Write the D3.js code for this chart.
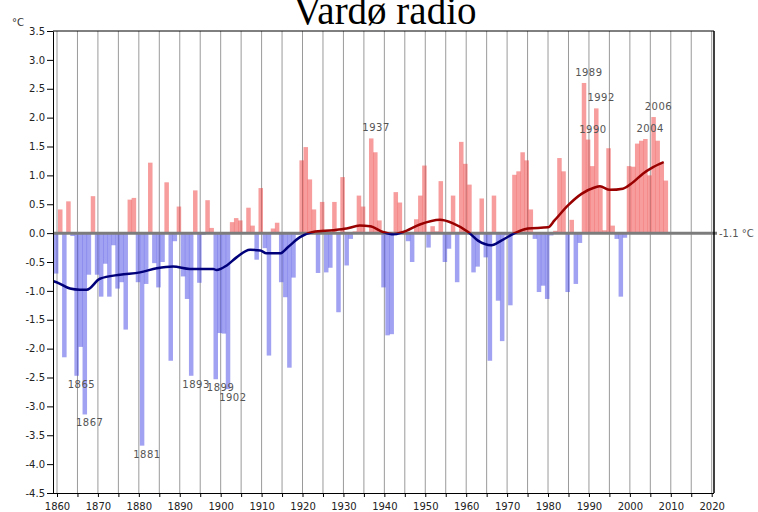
<!DOCTYPE html>
<html>
<head>
<meta charset="utf-8">
<script src="https://cdn.jsdelivr.net/npm/d3@7/dist/d3.min.js"></script>
<style>
  body { margin: 0; background: #fff; }
  svg { display: block; font-family: "DejaVu Sans", sans-serif; }
</style>
</head>
<body>
<svg width="758" height="512"></svg>
<script>
const WIDTH = 758;
const HEIGHT = 512;
const LEFT = 53, RIGHT = 714, TOP = 31, BOTTOM = 493;

const firstYear = 1860;
// yearly anomalies (°C), one row per decade
const anomalies = [
  -0.70, 0.41, -2.15, 0.55, -0.05, -2.47, -1.97, -3.14, -0.72, 0.64,   // 1860
  -0.72, -1.10, -0.53, -1.10, -0.21, -0.96, -0.85, -1.67, 0.58, 0.61,  // 1870
  -0.85, -3.68, -0.88, 1.22, -0.52, -0.94, -0.50, 0.88, -2.21, -0.14,  // 1880
  0.46, -0.75, -1.14, -2.47, 0.74, -0.86, -0.03, 0.57, 0.09, -2.53,    // 1890
  -1.73, -1.74, -2.70, 0.19, 0.26, 0.22, 0.02, 0.44, 0.13, -0.46,      // 1900
  0.78, -0.26, -2.12, 0.08, 0.18, -0.85, -1.11, -2.33, -0.77, -0.03,   // 1910
  1.26, 1.49, 0.93, 0.41, -0.69, 0.54, -0.68, -0.60, 0.54, -1.37,      // 1920
  0.97, -0.56, -0.10, 0.03, 0.65, 0.46, 0.02, 1.64, 1.40, 0.22,        // 1930
  -0.94, -1.77, -1.75, 0.71, 0.53, 0.02, -0.14, -0.50, 0.24, 0.65,     // 1940
  1.17, -0.25, 0.12, 0.03, 0.90, -0.50, -0.27, 0.65, -0.85, 1.58,      // 1950
  1.20, 0.84, -0.68, -0.58, 0.60, -0.42, -2.21, 0.65, -1.17, -1.87,    // 1960
  -0.04, -1.25, 1.01, 1.07, 1.40, 1.26, 0.41, -0.10, -1.02, -0.91,     // 1970
  -1.14, -0.04, 0.04, 1.30, 1.07, -1.02, 0.23, -0.88, -0.17, 2.60,     // 1980
  1.62, 1.16, 2.16, 0.80, 0.05, 1.47, 0.13, -0.10, -1.10, -0.08,       // 1990
  1.16, 1.15, 1.55, 1.60, 1.63, 1.00, 2.01, 1.60, 1.20, 0.91           // 2000
];

// smoothed curve
const smoothYears = [1859.2, 1860.1, 1863.4, 1865.8, 1867.5, 1870.7, 1875.6, 1880.5,
  1884.6, 1888.6, 1892.7, 1898.4, 1899.2, 1901.7, 1904.1, 1907.4, 1909.9, 1911.4,
  1914.7, 1916.7, 1919.6, 1922.8, 1927.7, 1931, 1934.2, 1936.7, 1939.9, 1942.4,
  1944.8, 1948.9, 1953.8, 1957, 1960.7, 1963.1, 1966.4, 1968.8, 1972.1, 1975.3,
  1980.2, 1981.8, 1985.1, 1988.4, 1991.6, 1992.9, 1995.3, 1998.5, 2001, 2003.4,
  2005.8, 2008.5];
const smoothValues = [-0.83, -0.85, -0.96, -0.98, -0.98, -0.79, -0.72, -0.68,
  -0.61, -0.58, -0.62, -0.62, -0.64, -0.56, -0.42, -0.29, -0.30, -0.35,
  -0.35, -0.24, -0.07, 0.02, 0.05, 0.08, 0.13, 0.12, 0.02, -0.02,
  0.02, 0.15, 0.23, 0.17, 0.02, -0.13, -0.21, -0.13, 0.00, 0.08,
  0.10, 0.22, 0.48, 0.68, 0.79, 0.81, 0.75, 0.77, 0.88, 1.03,
  1.14, 1.23];

const labelYears = [1865, 1867, 1881, 1893, 1899, 1902, 1937, 1989, 1990, 1992, 2004, 2006];
const gridYears = d3.range(1860, 2021, 5);
const yTicks = [3.5, 3, 2.5, 2, 1.5, 1, 0.5, 0, -0.5, -1, -1.5, -2, -2.5, -3, -3.5, -4, -4.5];

const data = anomalies.map((v, i) => ({ year: firstYear + i, value: v }));
const smooth = smoothYears.map((yr, i) => ({ year: yr, value: smoothValues[i] }));

const x = d3.scaleLinear().domain([1860, 2020]).range([57, 711.7]);
const y = d3.scaleLinear().domain([-4.5, 3.5]).range([BOTTOM, TOP]);

const svg = d3.select('svg');
const defs = svg.append('defs');
defs.append('clipPath').attr('id', 'plot')
  .append('rect').attr('x', LEFT + 0.5).attr('y', TOP).attr('width', RIGHT - LEFT).attr('height', BOTTOM - TOP);
defs.append('clipPath').attr('id', 'above')
  .append('rect').attr('x', LEFT + 0.5).attr('y', TOP).attr('width', RIGHT - LEFT).attr('height', y(0) - TOP);
defs.append('clipPath').attr('id', 'below')
  .append('rect').attr('x', LEFT + 0.5).attr('y', y(0)).attr('width', RIGHT - LEFT).attr('height', BOTTOM - y(0));

// title and units
svg.append('text')
  .attr('x', 385).attr('y', 24)
  .attr('text-anchor', 'middle')
  .style('font-family', '"Liberation Serif", "Times New Roman", serif')
  .style('font-size', '39px')
  .text('Vardø radio');

svg.append('text')
  .attr('x', 12).attr('y', 26)
  .style('font-size', '10px').attr('fill', '#333')
  .text('°C');

// vertical grid
svg.append('g').selectAll('line')
  .data(gridYears)
  .enter()
  .append('line')
  .attr('x1', d => x(d)).attr('x2', d => x(d))
  .attr('y1', TOP).attr('y2', BOTTOM)
  .attr('stroke', '#9a9a9a').attr('stroke-width', 1);

// bars
svg.append('g').attr('clip-path', 'url(#plot)')
  .selectAll('rect')
  .data(data)
  .enter()
  .append('rect')
  .attr('x', d => x(d.year - 1) + 1)
  .attr('width', 4.5)
  .attr('y', d => y(Math.max(0, d.value)))
  .attr('height', d => Math.abs(y(d.value) - y(0)))
  .attr('fill', d => d.value >= 0 ? '#f03c3c' : '#4646e6')
  .attr('fill-opacity', 0.5);

// zero line
svg.append('line')
  .attr('x1', LEFT).attr('x2', 717)
  .attr('y1', y(0)).attr('y2', y(0))
  .attr('stroke', '#7c7c7c').attr('stroke-width', 3);

svg.append('text')
  .attr('x', 719).attr('y', y(0) + 4)
  .style('font-size', '10px').attr('fill', '#555')
  .text('-1.1 °C');

// smoothed curve, red above zero and blue below
const line = d3.line()
  .x(d => x(d.year) - 0.9)
  .y(d => y(d.value))
  .curve(d3.curveMonotoneX);

[['above', '#990000'], ['below', '#00007a']].forEach(([clip, color]) => {
  svg.append('g').attr('clip-path', `url(#${clip})`)
    .append('path')
    .datum(smooth)
    .attr('d', line)
    .attr('fill', 'none')
    .attr('stroke', color)
    .attr('stroke-width', 2.5);
});

// year labels at the extremes
const byYear = new Map(data.map(d => [d.year, d.value]));
svg.append('g').selectAll('text')
  .data(labelYears)
  .enter()
  .append('text')
  .attr('x', d => x(d) + 4)
  .attr('y', d => byYear.get(d) >= 0 ? y(byYear.get(d)) - 7 : y(byYear.get(d)) + 12)
  .attr('text-anchor', 'middle')
  .style('font-size', '10px')
  .style('letter-spacing', '0.5px')
  .attr('fill', '#555')
  .text(d => d);

// frame
svg.append('line').attr('x1', LEFT).attr('x2', RIGHT).attr('y1', TOP).attr('y2', TOP)
  .attr('stroke', '#000');
svg.append('line').attr('x1', RIGHT).attr('x2', RIGHT).attr('y1', TOP).attr('y2', BOTTOM)
  .attr('stroke', '#000').attr('stroke-width', 1.5);

// axes
const leftAxis = d3.axisLeft(y)
  .tickValues(yTicks)
  .tickFormat(d => d.toFixed(1))
  .tickSize(6)
  .tickSizeOuter(0)
  .tickPadding(2);
svg.append('g')
  .attr('transform', `translate(${LEFT}, 0)`)
  .call(leftAxis)
  .call(g => g.selectAll('text').style('font-size', '10px').style('font-family', '"DejaVu Sans", sans-serif').attr('fill', '#222'));

const bottomAxis = d3.axisBottom(x)
  .tickValues(gridYears)
  .tickFormat(d => d % 10 === 0 ? d : '')
  .tickSize(4)
  .tickSizeOuter(0)
  .tickPadding(6);
svg.append('g')
  .attr('transform', `translate(0, ${BOTTOM})`)
  .call(bottomAxis)
  .call(g => g.select('.domain').attr('d', `M${LEFT},0.5H${RIGHT}`))
  .call(g => g.selectAll('text').style('font-size', '10px').style('font-family', '"DejaVu Sans", sans-serif').attr('fill', '#222'));
</script>
</body>
</html>
